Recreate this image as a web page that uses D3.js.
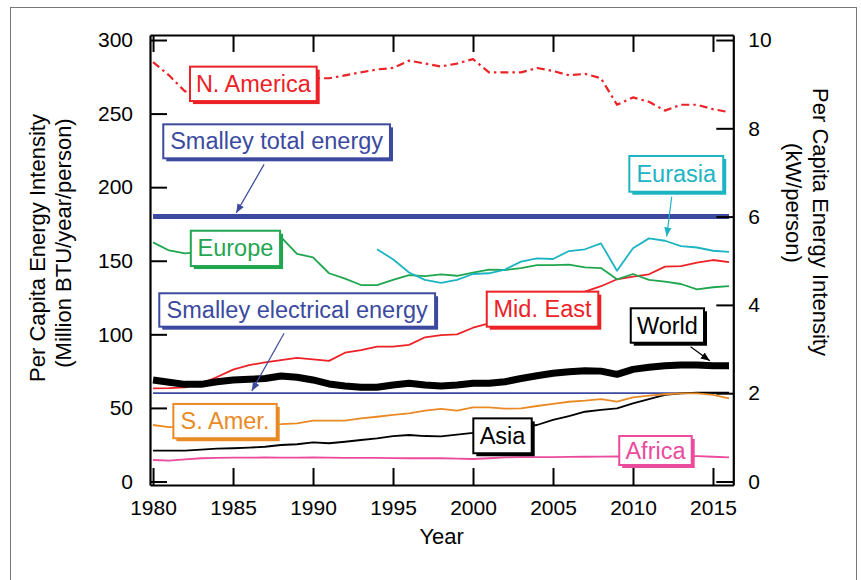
<!DOCTYPE html>
<html>
<head>
<meta charset="utf-8">
<script src="https://cdn.jsdelivr.net/npm/d3@7"></script>
<style>
  body { margin: 0; background: #fff; }
  svg { display: block; }
  text { font-family: "Liberation Sans", Arial, Helvetica, sans-serif; }
</style>
</head>
<body>
<svg id="chart" width="861" height="580"></svg>
<script>
// Per capita energy intensity by region (million BTU / year / person)
const years = [1980, 1981, 1982, 1983, 1984, 1985, 1986, 1987, 1988, 1989,
               1990, 1991, 1992, 1993, 1994, 1995, 1996, 1997, 1998, 1999,
               2000, 2001, 2002, 2003, 2004, 2005, 2006, 2007, 2008, 2009,
               2010, 2011, 2012, 2013, 2014, 2015, 2016];

const northAmerica = [285, 276, 265, 268, 271, 271, 270, 272, 275, 276,
                      274, 274, 276, 278, 280, 281, 286, 284, 282, 284,
                      287, 278, 278, 278, 281, 279, 276, 277, 274, 256,
                      261, 258, 252, 256, 256, 253, 251];

const europe = [162.5, 157, 155, 156, 158, 160, 162, 164, 166, 154.6,
                152.3, 141.5, 137.8, 133.5, 133.5, 137, 140.3, 139.5, 140.8, 139.8,
                142, 144, 143.7, 145, 147, 147, 147.3, 145.5, 145, 137.4,
                141, 137, 135.8, 134.2, 130.6, 132, 132.8];

const eurasia = [null, null, null, null, null, null, null, null, null, null,
                 null, null, null, null, 157.8, 151, 142, 137, 135, 137,
                 141, 141.5, 144, 149.4, 151.6, 151.2, 156.6, 157.8, 161.8, 143.2,
                 158.5, 165.2, 163.6, 160, 159, 156.8, 156];

const midEast = [63.3, 63.5, 64, 66.5, 71, 76, 79, 81, 82.5, 84,
                 83, 82, 87.5, 89.3, 91.6, 91.6, 92.8, 98, 99.5, 100,
                 104.5, 107.5, 111, 114.5, 118, 122, 125.5, 129, 132.7, 137.4,
                 139.2, 140.8, 146, 146.4, 148.7, 150.5, 149];

const world = [69, 67.5, 66, 66, 67.8, 69, 69.4, 70, 71.7, 70.8,
               69, 66.3, 64.9, 64, 64, 65.6, 66.7, 65.6, 64.9, 65.6,
               66.7, 66.7, 67.8, 70, 71.9, 73.5, 74.6, 75.3, 75, 72.8,
               76.2, 77.6, 78.7, 79.2, 79.2, 78.7, 78.7];

const southAmerica = [38.4, 37, 37, 37.5, 38, 38.5, 38.5, 38.8, 39, 39.5,
                      41.3, 41.3, 41.3, 42.9, 44, 45.2, 46.3, 48.1, 49.3, 48.1,
                      50.4, 50.4, 49.5, 49.7, 51.3, 52.7, 54.2, 54.9, 56, 54.2,
                      57.2, 58.3, 59.3, 59.9, 59.9, 58.8, 56.5];

const asia = [21, 21, 21, 21.7, 22.3, 22.6, 23, 23.6, 24.8, 25.3,
              26.6, 26, 27, 28.2, 29.3, 30.9, 31.6, 30.9, 30.6, 31.8,
              33, 34.5, 35.5, 37, 38.4, 41.8, 44.5, 47.4, 48.6, 49.7,
              53.1, 56, 58.8, 59.9, 60.3, 60.3, 60.3];

const africa = [14.6, 14.2, 15, 15.8, 16, 16.2, 16.2, 16.3, 16.2, 16.2,
                16.3, 16.2, 16, 16, 16, 15.9, 15.8, 15.8, 15.8, 15.5,
                15.3, 15.8, 16.4, 16.5, 16.5, 16.6, 16.7, 16.8, 16.9, 17,
                17.1, 17.2, 17.3, 17.3, 17.3, 16.8, 16.4];

// Smalley reference levels (million BTU / year / person)
const smalleyTotal = 180;
const smalleyElectrical = 60;

// Axis ticks
const yearTicks = [1980, 1985, 1990, 1995, 2000, 2005, 2010, 2015];
const btuTicks = [0, 50, 100, 150, 200, 250, 300];
const kwTicks = [0, 2, 4, 6, 8, 10];
const BTU_PER_KW = 30;

// ---------------------------------------------------------------------------
const svg = d3.select("#chart");
const box = { left: 150, right: 733.3, top: 35, bottom: 485 };

const x = d3.scaleLinear().domain([1979.81, 2016.27]).range([box.left, box.right]);
const y = d3.scaleLinear().domain([-2.38, 303.4]).range([box.bottom, box.top]);
const yKw = d3.scaleLinear().domain(y.domain().map(v => v / BTU_PER_KW)).range([box.bottom, box.top]);

const C = {
  red: "#ec2227",
  green: "#1fa64f",
  cyan: "#1cb4c3",
  blue: "#3b4a9f",
  orange: "#e98a24",
  pink: "#ec4a9c",
  black: "#000"
};

// outer frame
svg.append("rect")
  .attr("x", 10.5).attr("y", 7.5).attr("width", 846).attr("height", 600)
  .attr("fill", "none").attr("stroke", "#777").attr("stroke-width", 1);

const line = d3.line()
  .defined(d => d.v != null)
  .x(d => x(d.year))
  .y(d => y(d.v));

const toPts = vals => years.map((yr, i) => ({ year: yr, v: vals[i] }));
const flat = v => [{ year: years[0], v }, { year: years[years.length - 1], v }];

const series = [
  { pts: flat(smalleyTotal), color: C.blue, width: 5 },
  { pts: flat(smalleyElectrical), color: C.blue, width: 1.8 },
  { pts: toPts(africa), color: C.pink, width: 1.8 },
  { pts: toPts(asia), color: C.black, width: 1.8 },
  { pts: toPts(southAmerica), color: C.orange, width: 1.8 },
  { pts: toPts(midEast), color: C.red, width: 1.8 },
  { pts: toPts(europe), color: C.green, width: 1.8 },
  { pts: toPts(eurasia), color: C.cyan, width: 1.8 },
  { pts: toPts(northAmerica), color: C.red, width: 2.2, dash: "8,4,2.5,4" },
  { pts: toPts(world), color: C.black, width: 7 }
];

const gLines = svg.append("g");
series.forEach(s => {
  gLines.append("path")
    .datum(s.pts)
    .attr("d", line)
    .attr("fill", "none")
    .attr("stroke", s.color)
    .attr("stroke-width", s.width)
    .attr("stroke-linejoin", "round")
    .attr("stroke-dasharray", s.dash || null);
});

// Callout boxes, placed in data coordinates (year, value) for the corners
const callouts = [
  { text: "N. America", color: C.red, x0: 1982.31, x1: 1990.23, v0: 281.9, v1: 258.5 },
  { text: "Smalley total energy", color: C.blue, x0: 1980.64, x1: 1994.81, v0: 242.7, v1: 219.6 },
  { text: "Europe", color: C.green, x0: 1982.36, x1: 1987.94, v0: 170.4, v1: 146.4 },
  { text: "Smalley electrical energy", color: C.blue, x0: 1980.39, x1: 1997.63, v0: 127.9, v1: 105.2 },
  { text: "Eurasia", color: C.cyan, x0: 2009.77, x1: 2015.64, v0: 221.2, v1: 196.9 },
  { text: "Mid. East", color: C.red, x0: 2000.86, x1: 2007.83, v0: 129, v1: 105.2 },
  { text: "World", color: C.black, x0: 2009.86, x1: 2014.44, v0: 117.7, v1: 94.3 },
  { text: "S. Amer.", color: C.orange, x0: 1981.27, x1: 1987.73, v0: 52.7, v1: 29.4 },
  { text: "Asia", color: C.black, x0: 2000.02, x1: 2003.67, v0: 42.9, v1: 19.2 },
  { text: "Africa", color: C.pink, x0: 2009.14, x1: 2013.67, v0: 30.9, v1: 11.2 }
];

// Pointer arrows from callouts to their lines
const pointers = [
  { color: C.blue, from: [1986.94, 215.5], to: [1985.2, 182.5] },
  { color: C.blue, from: [1988.19, 100.7], to: [1986.17, 61.5] },
  { color: C.cyan, from: [2012.42, 193.5], to: [2012.11, 166.5] },
  { color: C.black, from: [2013.6, 91.6], to: [2014.8, 82] }
];

const defs = svg.append("defs");
[C.blue, C.cyan, C.black].forEach((c, i) => {
  defs.append("marker")
    .attr("id", "arr" + i)
    .attr("viewBox", "0 0 10 10")
    .attr("refX", 10).attr("refY", 5)
    .attr("markerWidth", 9).attr("markerHeight", 9)
    .attr("markerUnits", "userSpaceOnUse")
    .attr("orient", "auto")
    .append("path")
    .attr("d", "M0,1 L10,5 L0,9 Z")
    .attr("fill", c);
});
const markerFor = c => "url(#arr" + [C.blue, C.cyan, C.black].indexOf(c) + ")";

const gCall = svg.append("g");
callouts.forEach(c => {
  const bx = x(c.x0), by = y(c.v0);
  const bw = x(c.x1) - bx, bh = y(c.v1) - by;
  const g = gCall.append("g");
  g.append("rect")
    .attr("x", bx + 3).attr("y", by + 3).attr("width", bw).attr("height", bh)
    .attr("fill", c.color);
  g.append("rect")
    .attr("x", bx).attr("y", by).attr("width", bw).attr("height", bh)
    .attr("fill", "#fff").attr("stroke", c.color).attr("stroke-width", 2);
  g.append("text")
    .attr("x", bx + bw / 2).attr("y", by + bh / 2 + 8)
    .attr("text-anchor", "middle")
    .attr("font-size", 23.5)
    .attr("fill", c.color)
    .text(c.text);
});

pointers.forEach(p => {
  svg.append("line")
    .attr("x1", x(p.from[0])).attr("y1", y(p.from[1]))
    .attr("x2", x(p.to[0])).attr("y2", y(p.to[1]))
    .attr("stroke", p.color).attr("stroke-width", 1.2)
    .attr("marker-end", markerFor(p.color));
});

// Axes: ticks point inward on all four sides
function styleAxis(g) {
  g.select(".domain").attr("stroke", "#000").attr("stroke-width", 2.2);
  g.selectAll(".tick line").attr("stroke", "#000").attr("stroke-width", 2);
  g.selectAll(".tick text").attr("font-size", 21).attr("fill", "#000")
    .style("font-family", '"Liberation Sans", Arial, Helvetica, sans-serif');
}

svg.append("g")
  .attr("transform", `translate(0,${box.bottom})`)
  .call(d3.axisBottom(x).tickValues(yearTicks).tickFormat(d3.format("d"))
    .tickSize(-17).tickSizeOuter(0).tickPadding(15))
  .call(styleAxis);

svg.append("g")
  .attr("transform", `translate(0,${box.top})`)
  .call(d3.axisTop(x).tickValues(yearTicks).tickFormat("")
    .tickSize(-17).tickSizeOuter(0))
  .call(styleAxis);

svg.append("g")
  .attr("transform", `translate(${box.left},0)`)
  .call(d3.axisLeft(y).tickValues(btuTicks).tickSize(-17).tickSizeOuter(0).tickPadding(17))
  .call(styleAxis);

svg.append("g")
  .attr("transform", `translate(${box.right},0)`)
  .call(d3.axisRight(yKw).tickValues(kwTicks).tickSize(-17).tickSizeOuter(0).tickPadding(15))
  .call(styleAxis);

// Axis titles
const title = (tx, ty, rot, txt) =>
  svg.append("text")
    .attr("transform", `translate(${tx},${ty}) rotate(${rot})`)
    .attr("text-anchor", "middle")
    .attr("dominant-baseline", "central")
    .attr("font-size", 22)
    .attr("fill", "#000")
    .text(txt);

title(37, 248, -90, "Per Capita Energy Intensity");
title(63, 243, -90, "(Million BTU/year/person)");
title(820, 222, 90, "Per Capita Energy Intensity");
title(793, 203, 90, "(kW/person)");

svg.append("text")
  .attr("x", (box.left + box.right) / 2).attr("y", 544)
  .attr("text-anchor", "middle")
  .attr("font-size", 22)
  .attr("fill", "#000")
  .text("Year");
</script>
</body>
</html>
